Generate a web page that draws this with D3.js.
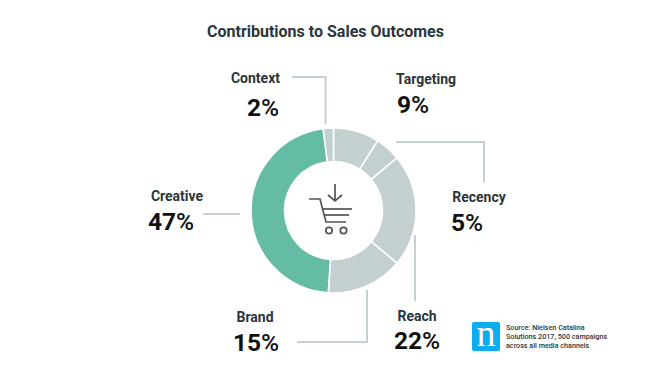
<!DOCTYPE html>
<html>
<head>
<meta charset="utf-8">
<script src="https://cdn.jsdelivr.net/npm/d3@7"></script>
<style>
html, body { margin: 0; padding: 0; background: #fff; }
svg { display: block; }
text { font-family: Roboto, sans-serif; }
</style>
</head>
<body>
<script>
var categories = ['Targeting', 'Recency', 'Reach', 'Brand', 'Creative', 'Context'];
var values = [9, 5, 22, 15, 47, 2];
var sourceLines = ['Source: Nielsen Catalina', 'Solutions 2017, 500 campaigns', 'across all media channels'];

var width = 665, height = 380;
var cx = 333.5, cy = 210.5;
var grey = '#c4cfd1', green = '#65bca4', lineCol = '#c4d1d3', dark = '#2b353b';

// label positions, same order as categories
var labelPos = [[426, 83.5, 413, 113], [479, 201.5, 467, 231], [417, 320.5, 417, 349],
                [255, 321.5, 256, 351], [177, 200.5, 171, 230], [255.5, 82.5, 263, 116]];

// leader lines
var leaders = [
    null,
    [[396, 142], [484, 142], [484, 182]],
    [[415, 235], [415, 301]],
    [[297, 342], [367, 342], [367, 290]],
    [[203, 214], [240, 214]],
    [[292, 77], [325.5, 77], [325.5, 124]]
];

var svg = d3.select('body')
    .append('svg')
    .attr('width', width)
    .attr('height', height);

svg.append('text')
    .attr('x', 325.5)
    .attr('y', 37)
    .attr('text-anchor', 'middle')
    .attr('font-size', 16)
    .attr('font-weight', 700)
    .attr('fill', dark)
    .text('Contributions to Sales Outcomes');

var pie = d3.pie().sort(null);
var arc = d3.arc().innerRadius(49).outerRadius(82.5);
var g = svg.append('g').attr('transform', `translate(${cx},${cy})`);

g.selectAll('path')
    .data(pie(values))
    .enter()
    .append('path')
    .attr('d', arc)
    .attr('fill', (d, i) => categories[i] == 'Creative' ? green : grey)
    .attr('stroke', '#fff')
    .attr('stroke-width', 1.6);

var line = d3.line();
svg.selectAll('path.leader')
    .data(leaders.filter(d => d))
    .enter()
    .append('path')
    .attr('class', 'leader')
    .attr('d', line)
    .attr('fill', 'none')
    .attr('stroke', lineCol)
    .attr('stroke-width', 2);

categories.forEach(function(c, i) {
    var p = labelPos[i];
    svg.append('text')
        .attr('x', p[0])
        .attr('y', p[1])
        .attr('text-anchor', 'middle')
        .attr('font-size', 14)
        .attr('font-weight', 700)
        .attr('fill', dark)
        .text(c);
    var t = svg.append('text')
        .attr('x', p[2])
        .attr('y', p[3])
        .attr('text-anchor', 'middle')
        .attr('font-size', 24.5)
        .attr('font-weight', 700)
        .attr('fill', '#111');
    t.append('tspan').text(values[i]);
    t.append('tspan').attr('font-weight', 500).text('%');
});

// cart icon
var cart = svg.append('g')
    .attr('fill', 'none')
    .attr('stroke', '#4d5559')
    .attr('stroke-width', 1.7);
[
    [[309, 199], [320, 199], [326, 222], [346, 222]],
    [[322, 209], [352, 209]],
    [[324, 215], [349, 215]],
    [[335, 184], [335, 201]],
    [[328, 195], [335, 201], [342, 195]]
].forEach(function(p) {
    cart.append('path').attr('d', line(p));
});
cart.append('circle').attr('cx', 329).attr('cy', 230.5).attr('r', 3.2);
cart.append('circle').attr('cx', 343.5).attr('cy', 230.5).attr('r', 3.2);

// nielsen logo and source
svg.append('rect')
    .attr('x', 472).attr('y', 322)
    .attr('width', 28).attr('height', 29)
    .attr('rx', 2)
    .attr('fill', '#0badef');
svg.append('text')
    .attr('x', 486).attr('y', 346)
    .attr('text-anchor', 'middle')
    .style('font-family', '"Liberation Serif", serif')
    .attr('font-size', 38)
    .attr('fill', '#fff')
    .text('n');

svg.selectAll('text.source')
    .data(sourceLines)
    .enter()
    .append('text')
    .attr('class', 'source')
    .attr('x', 506)
    .attr('y', (d, i) => 330 + i * 8.8)
    .attr('font-size', 7.2)
    .attr('font-weight', 500)
    .attr('fill', dark)
    .text(d => d);
</script>
</body>
</html>
